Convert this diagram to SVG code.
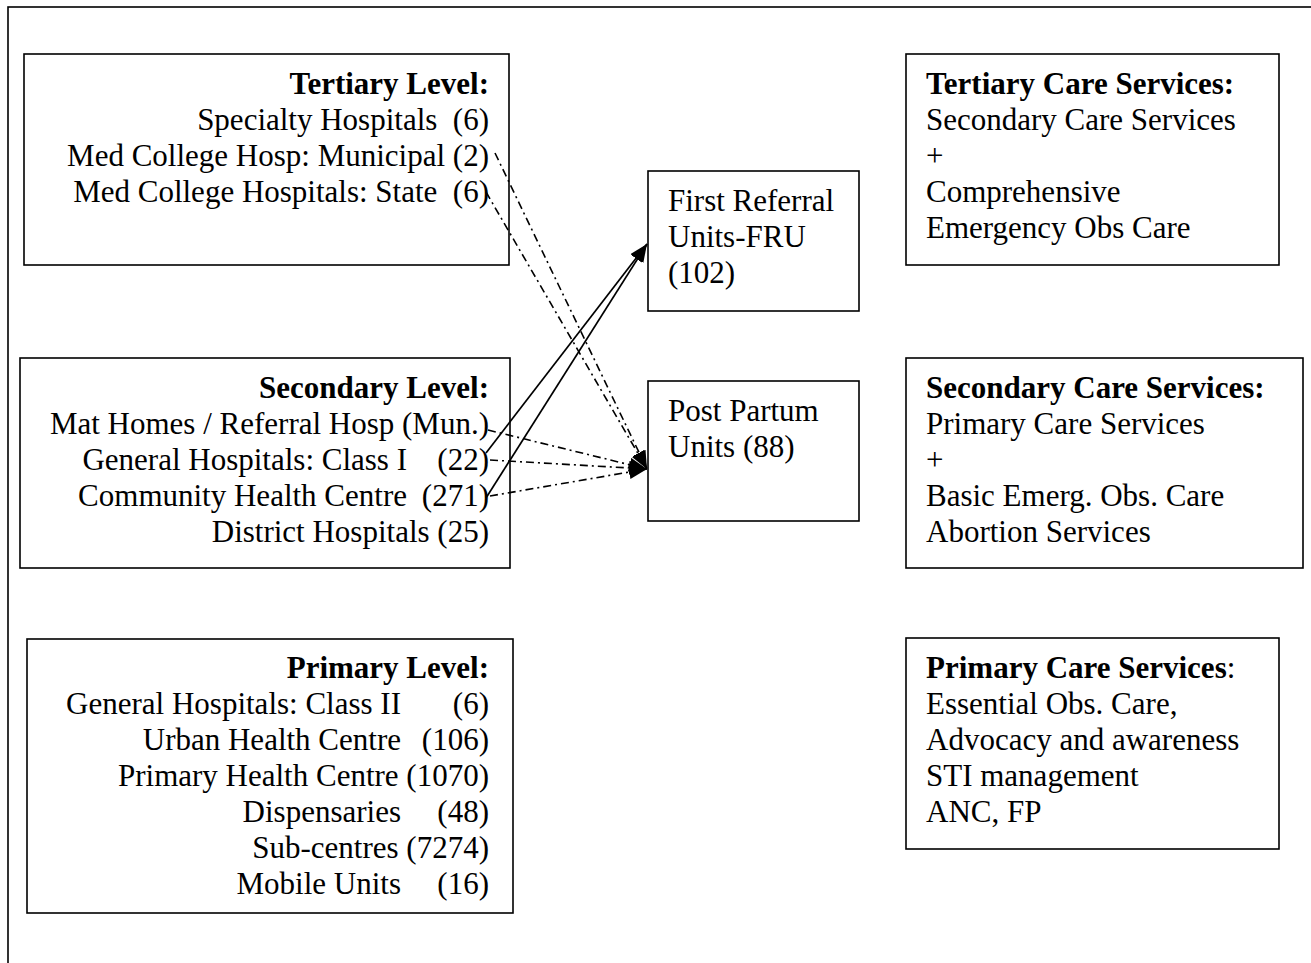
<svg xmlns="http://www.w3.org/2000/svg" width="1311" height="963" viewBox="0 0 1311 963">
<style>
.box{fill:#fff;stroke:#000;stroke-width:1.6}
text{font-family:"Liberation Serif","Times New Roman",serif;font-size:31px;fill:#000;white-space:pre}
.b{font-weight:bold}
.r{text-anchor:end}
.solid{stroke:#000;stroke-width:1.7;fill:none}
.dd{stroke:#000;stroke-width:1.6;fill:none;stroke-dasharray:8 4 2 4}
</style>
<defs>
<marker id="ah" markerUnits="userSpaceOnUse" markerWidth="20" markerHeight="14" refX="18" refY="7" orient="auto">
<path d="M0,0 L18,7 L0,14 z" fill="#000"/>
</marker>
</defs>
<rect x="0" y="0" width="1311" height="963" fill="#fff"/>
<rect x="8" y="7" width="1330" height="990" fill="none" stroke="#000" stroke-width="1.6"/>

<g id="tertiary-level">
<rect class="box" x="24" y="54" width="485" height="211"/>
<text class="b r" x="489" y="94">Tertiary Level:</text>
<text class="r" x="489" y="130">Specialty Hospitals  (6)</text>
<text class="r" x="489" y="166">Med College Hosp: Municipal (2)</text>
<text class="r" x="489" y="202">Med College Hospitals: State  (6)</text>
</g>

<g id="secondary-level">
<rect class="box" x="20" y="358" width="490" height="210"/>
<text class="b r" x="489" y="398">Secondary Level:</text>
<text class="r" x="489" y="434">Mat Homes / Referral Hosp (Mun.)</text>
<text class="r" x="407" y="470">General Hospitals: Class I</text>
<text class="r" x="489" y="470">(22)</text>
<text class="r" x="407" y="506">Community Health Centre</text>
<text class="r" x="489" y="506">(271)</text>
<text class="r" x="489" y="542">District Hospitals (25)</text>
</g>

<g id="primary-level">
<rect class="box" x="27" y="639" width="486" height="274"/>
<text class="b r" x="489" y="678">Primary Level:</text>
<text class="r" x="401" y="714">General Hospitals: Class II</text>
<text class="r" x="489" y="714">(6)</text>
<text class="r" x="401" y="750">Urban Health Centre</text>
<text class="r" x="489" y="750">(106)</text>
<text class="r" x="489" y="786">Primary Health Centre (1070)</text>
<text class="r" x="401" y="822">Dispensaries</text>
<text class="r" x="489" y="822">(48)</text>
<text class="r" x="489" y="858">Sub-centres (7274)</text>
<text class="r" x="401" y="894">Mobile Units</text>
<text class="r" x="489" y="894">(16)</text>
</g>

<g id="fru">
<rect class="box" x="648" y="171" width="211" height="140"/>
<text x="668" y="211">First Referral</text>
<text x="668" y="247">Units-FRU</text>
<text x="668" y="283">(102)</text>
</g>

<g id="ppu">
<rect class="box" x="648" y="381" width="211" height="140"/>
<text x="668" y="421">Post Partum</text>
<text x="668" y="457">Units (88)</text>
</g>

<g id="tertiary-care">
<rect class="box" x="906" y="54" width="373" height="211"/>
<text class="b" x="926" y="94">Tertiary Care Services:</text>
<text x="926" y="130">Secondary Care Services</text>
<text x="926" y="166">+</text>
<text x="926" y="202">Comprehensive</text>
<text x="926" y="238">Emergency Obs Care</text>
</g>

<g id="secondary-care">
<rect class="box" x="906" y="358" width="397" height="210"/>
<text class="b" x="926" y="398">Secondary Care Services:</text>
<text x="926" y="434">Primary Care Services</text>
<text x="926" y="470">+</text>
<text x="926" y="506">Basic Emerg. Obs. Care</text>
<text x="926" y="542">Abortion Services</text>
</g>

<g id="primary-care">
<rect class="box" x="906" y="638" width="373" height="211"/>
<text x="926" y="678"><tspan class="b">Primary Care Services</tspan>:</text>
<text x="926" y="714">Essential Obs. Care,</text>
<text x="926" y="750">Advocacy and awareness</text>
<text x="926" y="786">STI management</text>
<text x="926" y="822">ANC, FP</text>
</g>

<g id="connectors">
<line class="solid" x1="486" y1="453" x2="647" y2="244" marker-end="url(#ah)"/>
<line class="solid" x1="486" y1="498" x2="647" y2="244" marker-end="url(#ah)"/>
<line class="dd" x1="495" y1="153" x2="647" y2="469" marker-end="url(#ah)"/>
<line class="dd" x1="486" y1="192" x2="647" y2="469" marker-end="url(#ah)"/>
<line class="dd" x1="488" y1="430" x2="647" y2="469" marker-end="url(#ah)"/>
<line class="dd" x1="490" y1="460" x2="647" y2="469" marker-end="url(#ah)"/>
<line class="dd" x1="490" y1="496" x2="647" y2="469" marker-end="url(#ah)"/>
</g>
</svg>
